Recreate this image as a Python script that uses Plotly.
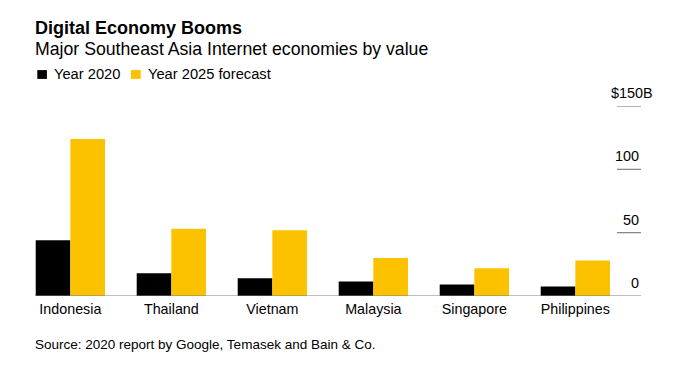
import plotly.graph_objects as go

countries = ["Indonesia", "Thailand", "Vietnam", "Malaysia", "Singapore", "Philippines"]
series_names = ["Year 2020", "Year 2025 forecast"]
values_2020 = [44, 18, 14, 11.4, 9, 7.5]
values_2025 = [124, 53, 52, 30, 22, 28]
series_colors = ["#000000", "#fcc200"]
tick_vals = [0, 50, 100, 150]
tick_labels = ["0", "50", "100", "$150B"]

FONT = "Liberation Sans, Arial, Helvetica, sans-serif"
TXT = "#000000"

fig = go.Figure()
for name, vals, col in zip(series_names, [values_2020, values_2025], series_colors):
    fig.add_trace(go.Bar(x=countries, y=vals, name=name, marker=dict(color=col, line=dict(width=0)),
                         showlegend=False, hoverinfo="x+y"))

W, H = 679, 367
L, R, T, B = 35, 38, 106, 71
pw, ph = W - L - R, H - T - B

def px(x):
    return (x - L) / pw

def py(y):
    return (H - B - y) / ph

shapes = []
annotations = []

# baseline
shapes.append(dict(type="line", xref="paper", yref="y", x0=0, x1=1, y0=0, y1=0,
                   line=dict(color="#808080", width=1.2)))
# short right-side gridlines and their labels
for v, lab in zip(tick_vals, tick_labels):
    if v != 0:
        shapes.append(dict(type="line", xref="paper", yref="y", x0=px(617), x1=1, y0=v, y1=v,
                           line=dict(color="#808080", width=1.2)))
    annotations.append(dict(xref="paper", yref="y", x=1, y=v, text=lab, showarrow=False,
                            xanchor="right", yanchor="bottom", yshift=3,
                            xshift=14 if lab.startswith("$") else 0,
                            font=dict(family=FONT, size=14.4, color=TXT)))

# title & subtitle
annotations.append(dict(xref="paper", yref="paper", x=px(33), y=py(28), xanchor="left", yanchor="middle",
                        text="<b>Digital Economy Booms</b>", showarrow=False,
                        font=dict(family=FONT, size=18, color=TXT)))
annotations.append(dict(xref="paper", yref="paper", x=px(33), y=py(49.2), xanchor="left", yanchor="middle",
                        text="Major Southeast Asia Internet economies by value", showarrow=False,
                        font=dict(family=FONT, size=17.7, color=TXT)))

# custom legend
legend_swatch_x = [(37.3, 46.9), (130.9, 140.7)]
legend_text_x = [51.5, 145.5]
for name, col, (sx0, sx1), tx in zip(series_names, series_colors, legend_swatch_x, legend_text_x):
    shapes.append(dict(type="rect", xref="paper", yref="paper", x0=px(sx0), x1=px(sx1),
                       y0=py(78.9), y1=py(70.1), fillcolor=col, line=dict(width=0)))
    annotations.append(dict(xref="paper", yref="paper", x=px(tx), y=py(74), xanchor="left", yanchor="middle",
                            text=name, showarrow=False, font=dict(family=FONT, size=14.7, color=TXT)))

# source
annotations.append(dict(xref="paper", yref="paper", x=px(33), y=py(344.6), xanchor="left", yanchor="middle",
                        text="Source: 2020 report by Google, Temasek and Bain & Co.", showarrow=False,
                        font=dict(family=FONT, size=13.5, color=TXT)))

fig.update_layout(
    width=W, height=H,
    margin=dict(l=L, r=R, t=T, b=B, pad=0),
    paper_bgcolor="white", plot_bgcolor="white",
    barmode="group", bargap=0.314, bargroupgap=0,
    showlegend=False,
    shapes=shapes, annotations=annotations,
    font=dict(family=FONT, color=TXT),
    xaxis=dict(range=[-0.35, 5.65], showgrid=False, zeroline=False, showline=False, ticks="",
               ticklabelstandoff=3,
               tickfont=dict(family=FONT, size=14.3, color=TXT), fixedrange=True),
    yaxis=dict(range=[0, 150], showgrid=False, zeroline=False, showline=False,
               showticklabels=False, ticks="", fixedrange=True),
)

fig.write_html("out.html", config={"displayModeBar": False},
               post_script="document.body.style.margin='0';document.body.style.overflow='hidden';")
